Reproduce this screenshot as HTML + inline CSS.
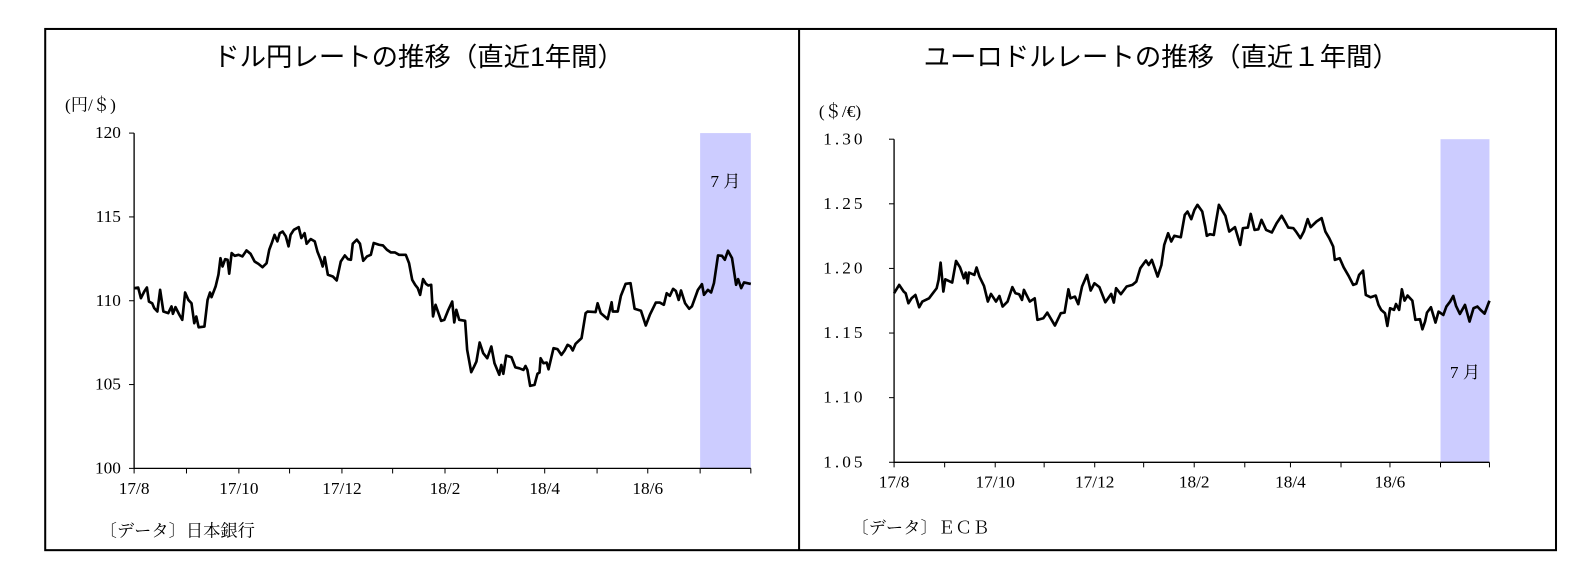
<!DOCTYPE html>
<html><head><meta charset="utf-8">
<style>
body{margin:0;background:#fff;}
svg{display:block;}
.t{font-family:"Liberation Sans","Noto Sans CJK JP",sans-serif;font-size:26px;fill:#000;}
.s{font-family:"Liberation Serif","Noto Serif CJK JP",serif;font-size:17px;fill:#000;}
</style></head><body>
<svg id="c" width="1593" height="581" viewBox="0 0 1593 581" xmlns="http://www.w3.org/2000/svg">
<rect x="0" y="0" width="1593" height="581" fill="#fff"/>
<g transform="scale(1.016)">
<rect x="44.5" y="28.5" width="1487" height="513" fill="none" stroke="#000" stroke-width="2"/>
<line x1="786.5" y1="28" x2="786.5" y2="541" stroke="#000" stroke-width="2"/>
<text class="t" x="412" y="65" text-anchor="middle">ドル円レートの推移（直近1年間）</text>
<text class="t" x="1143" y="65" text-anchor="middle">ユーロドルレートの推移（直近１年間）</text>
<text class="s" x="64" y="109">(円/＄)</text>
<text class="s" x="806" y="115">(＄/€)</text>
<text class="s" x="98" y="528">〔データ〕日本銀行</text>
<text class="s" x="838" y="525">〔データ〕ＥＣＢ</text>
<g id="L"></g><g id="R"></g>
</g>
</svg>
<script>
const monthDays=[0,31,62,92,123,153,184,215,243,274,304,335,365];
const monthLabels=["17/8","17/10","17/12","18/2","18/4","18/6"];
const usdTicks=[100,105,110,115,120];
const eurTicks=[1.05,1.10,1.15,1.20,1.25,1.30];
const usdDays=[0,2.4,4,6,7.6,8.8,10.7,11.9,13.8,15.4,17.3,20.2,22.1,23,24.5,26.8,28.5,30.2,32.1,34,35.6,36.8,38.2,41.6,43.5,44.9,45.8,48.2,49.9,51.1,52.3,53.9,55.3,56.3,57.7,59.6,61.8,64.1,66.5,68.9,71.3,73.6,76,78.4,80,81.5,83.1,84.8,86.2,87.9,89.8,91.4,92.6,94.5,97.4,99,100.9,102.1,104.5,106.9,108.5,110.4,111.6,112.8,114.7,117.6,119.9,122.3,124.7,126.6,128.3,129.4,131.8,133.7,135.6,137.8,140.1,141.8,144.9,147.3,149.6,152,154.4,156.8,160.8,162.7,164.6,166.3,167.9,169.3,171,172.7,174.1,175.8,176.9,178.4,181.7,183.6,186,188.3,189.5,190.7,192.4,195.9,197.1,199.5,201.2,202.6,204.5,206.6,209,211.4,213.3,216.1,217.3,218.5,220.2,223.3,225.6,228,230.4,231.6,232.8,234.4,237,238.7,239.9,240.6,242.3,244.2,245.3,248.2,250.6,252.9,254.8,256.5,258.2,259.6,261.3,264.8,267.2,268.4,273.1,274.3,276.2,280.3,282.6,283.3,286.2,288.1,290.9,293.8,296.2,300,302.8,305.2,308.8,311.1,313.5,315.2,317.1,319,320.6,322.3,323.7,326.1,328.5,330.1,333.7,336.1,337.3,339.6,341.5,343.2,345.6,347.9,349.6,351.5,353.9,356.3,357.5,359.3,361,365];
const usdVals=[110.75,110.79,110.15,110.55,110.79,109.95,109.85,109.56,109.36,110.65,109.36,109.26,109.66,109.22,109.62,109.16,108.86,110.49,110.05,109.85,108.66,109.06,108.42,108.46,110.05,110.49,110.21,110.85,111.55,112.54,112.04,112.48,112.44,111.61,112.84,112.68,112.74,112.64,113.0,112.8,112.34,112.2,112.0,112.24,113.04,113.44,113.93,113.54,114.03,114.13,113.84,113.24,113.93,114.23,114.39,113.74,114.03,113.4,113.68,113.54,112.94,112.44,112.04,112.6,111.55,111.45,111.21,112.34,112.7,112.48,112.44,113.4,113.64,113.4,112.38,112.64,112.74,113.44,113.34,113.3,113.04,112.88,112.88,112.74,112.74,112.24,111.25,110.95,110.75,110.35,111.29,111.01,110.91,110.95,109.06,109.76,108.8,108.86,109.46,109.95,108.7,109.46,108.86,108.8,107.07,105.74,106.07,106.37,107.51,106.87,106.57,107.27,106.27,105.58,106.17,105.64,106.73,106.63,106.03,105.97,105.87,106.11,105.87,104.92,104.98,105.64,105.72,106.57,106.27,106.31,105.91,107.17,107.11,106.77,107.03,107.37,107.27,107.03,107.43,107.77,109.26,109.36,109.32,109.85,109.26,108.9,109.91,109.36,109.36,110.29,111.01,111.05,109.52,109.4,108.52,109.16,109.89,109.89,109.76,110.45,110.29,110.71,110.59,110.05,110.61,109.85,109.52,109.66,110.65,110.99,110.35,110.65,110.49,111.05,112.7,112.68,112.44,112.98,112.54,110.95,111.29,110.75,111.09,111.0];
const eurDays=[0,3.1,5.9,7.1,8.8,10.7,13.1,15.4,17.3,21.4,23.8,26.1,27.3,28.5,30.2,31.4,35.6,38,40.4,42.8,43.9,45.1,45.9,49.2,50.6,52.3,55.1,57.5,59.4,62.5,64.6,66.5,69.6,72.5,74.4,76.7,78.4,79.6,83.2,86.2,87.9,91.5,93.9,98.6,102.2,104.5,106.9,108.1,110.9,112.9,115.2,118.3,120.5,122.8,125.9,129.5,133.1,134.7,136.1,139,142.6,146.1,148.5,150.9,154.4,156.1,158,161.6,163.9,165.6,168,169.9,171.8,175.8,178.2,179.9,182.2,184.1,186,188.9,190.8,191.7,193.6,196,197.2,199.1,203.1,205.5,209,212.2,213.8,216.9,218.6,221,223.3,225.2,228.1,231.6,234.5,237.6,239.3,241.7,244.8,246.4,249.1,251.2,253.6,255.4,259,262.1,264.4,266.8,269.2,270.2,273.2,275.6,278.7,281.5,283.4,285.1,287.5,289.2,292.2,295.3,297,298.6,301,302.4,304.1,306.5,307.7,309.6,311.3,312.9,314.8,317.7,319.6,322.4,323.9,325.5,326.7,329.1,331.9,333.8,336.7,338.6,340.9,342.8,344.5,346.9,350,352.8,355.2,357.6,359.5,362,365];
const eurVals=[1.1808,1.1873,1.1821,1.1808,1.173,1.1769,1.1795,1.17,1.1744,1.1769,1.1808,1.1847,1.1911,1.2045,1.1821,1.1916,1.1891,1.2058,1.2009,1.1924,1.1968,1.1885,1.1968,1.195,1.2007,1.1937,1.1865,1.1744,1.1803,1.1744,1.1787,1.1705,1.1744,1.1855,1.1808,1.18,1.1756,1.1834,1.1744,1.1769,1.1602,1.1615,1.1658,1.1558,1.1653,1.1658,1.1839,1.1769,1.1782,1.1723,1.186,1.195,1.1829,1.1885,1.1855,1.1738,1.1803,1.1736,1.1847,1.18,1.186,1.1873,1.1898,1.2001,1.2061,1.2027,1.2066,1.1937,1.2027,1.2182,1.2272,1.2208,1.2252,1.2241,1.2414,1.244,1.2381,1.2453,1.2492,1.244,1.2324,1.2252,1.2265,1.2259,1.235,1.2492,1.2407,1.2285,1.2319,1.2182,1.2311,1.2316,1.2422,1.2298,1.2303,1.2376,1.2298,1.2278,1.235,1.2407,1.237,1.2316,1.2311,1.2285,1.2234,1.2285,1.2381,1.2319,1.2363,1.2389,1.2285,1.2234,1.2169,1.2066,1.2079,1.2009,1.1942,1.1873,1.1881,1.195,1.1983,1.1795,1.1777,1.179,1.1718,1.1679,1.1653,1.1555,1.1692,1.1679,1.1725,1.1679,1.1839,1.1751,1.179,1.1751,1.1602,1.1607,1.1529,1.1589,1.1658,1.17,1.1581,1.1666,1.164,1.1705,1.1744,1.1787,1.171,1.1648,1.1718,1.1589,1.1692,1.1705,1.1679,1.165,1.175];
const julyStart=335;
const NS="http://www.w3.org/2000/svg";
function mk(parent,tag,attrs){const e=document.createElementNS(NS,tag);for(const k in attrs)e.setAttribute(k,attrs[k]);parent.appendChild(e);return e;}
function draw(gid,o){
  const g=document.getElementById(gid);
  const sx=d=>o.x0+(o.x1-o.x0)*d/365;
  const sy=v=>o.y1-(o.y1-o.y0)*(v-o.vmin)/(o.vmax-o.vmin);
  const sh=mk(g,'rect',{x:sx(julyStart),y:o.y0,width:sx(365)-sx(julyStart),height:o.y1-o.y0,fill:'#ccccff'});
  
  
  const jl=mk(g,'text',{x:(sx(julyStart)+sx(365))/2,y:o.jy,'text-anchor':'middle',class:'s','font-size':'11'});
  jl.textContent='7 月';
  
  
  const ax=mk(g,'path',{d:`M${o.x0} ${o.y0}V${o.y1}H${o.x1}`,fill:'none',stroke:'#000','stroke-width':1.3});
  
  
  o.ticks.forEach(t=>{
    const y=sy(t);
    const tk=mk(g,'line',{x1:o.x0-5,x2:o.x0,y1:y,y2:y,stroke:'#000','stroke-width':1});
    
    
    const tl=mk(g,'text',{x:o.lx,y:y+5,'text-anchor':'end',class:'s','letter-spacing':o.ls});
    tl.textContent=o.fmt(t);
    
    
  });
  monthDays.forEach(d=>{
    const tk=mk(g,'line',{x1:sx(d),x2:sx(d),y1:o.y1,y2:o.y1+5,stroke:'#000','stroke-width':1});
    
    
  });
  monthLabels.forEach((m,i)=>{
    const tl=mk(g,'text',{x:sx(monthDays[i*2]),y:o.y1+25,'text-anchor':'middle',class:'s'});
    tl.textContent=m;
    
    
  });
  const d=o.days.map((dd,i)=>(i?'L':'M')+sx(dd).toFixed(1)+' '+sy(o.vals[i]).toFixed(1)).join('');
  const ln=mk(g,'path',{d:d,fill:'none',stroke:'#000','stroke-width':2.6,'stroke-linejoin':'round'});
  
  
}
draw('L',{p:'usdjpy',x0:132,x1:739,y0:131,y1:461,vmin:100,vmax:120,ticks:usdTicks,fmt:v=>String(v),lx:119,ls:0,days:usdDays,vals:usdVals,jy:184});
draw('R',{p:'eurusd',x0:880,x1:1466,y0:137,y1:455,vmin:1.05,vmax:1.30,ticks:eurTicks,fmt:v=>v.toFixed(2),lx:852,ls:3,days:eurDays,vals:eurVals,jy:372});
</script>
</body></html>
